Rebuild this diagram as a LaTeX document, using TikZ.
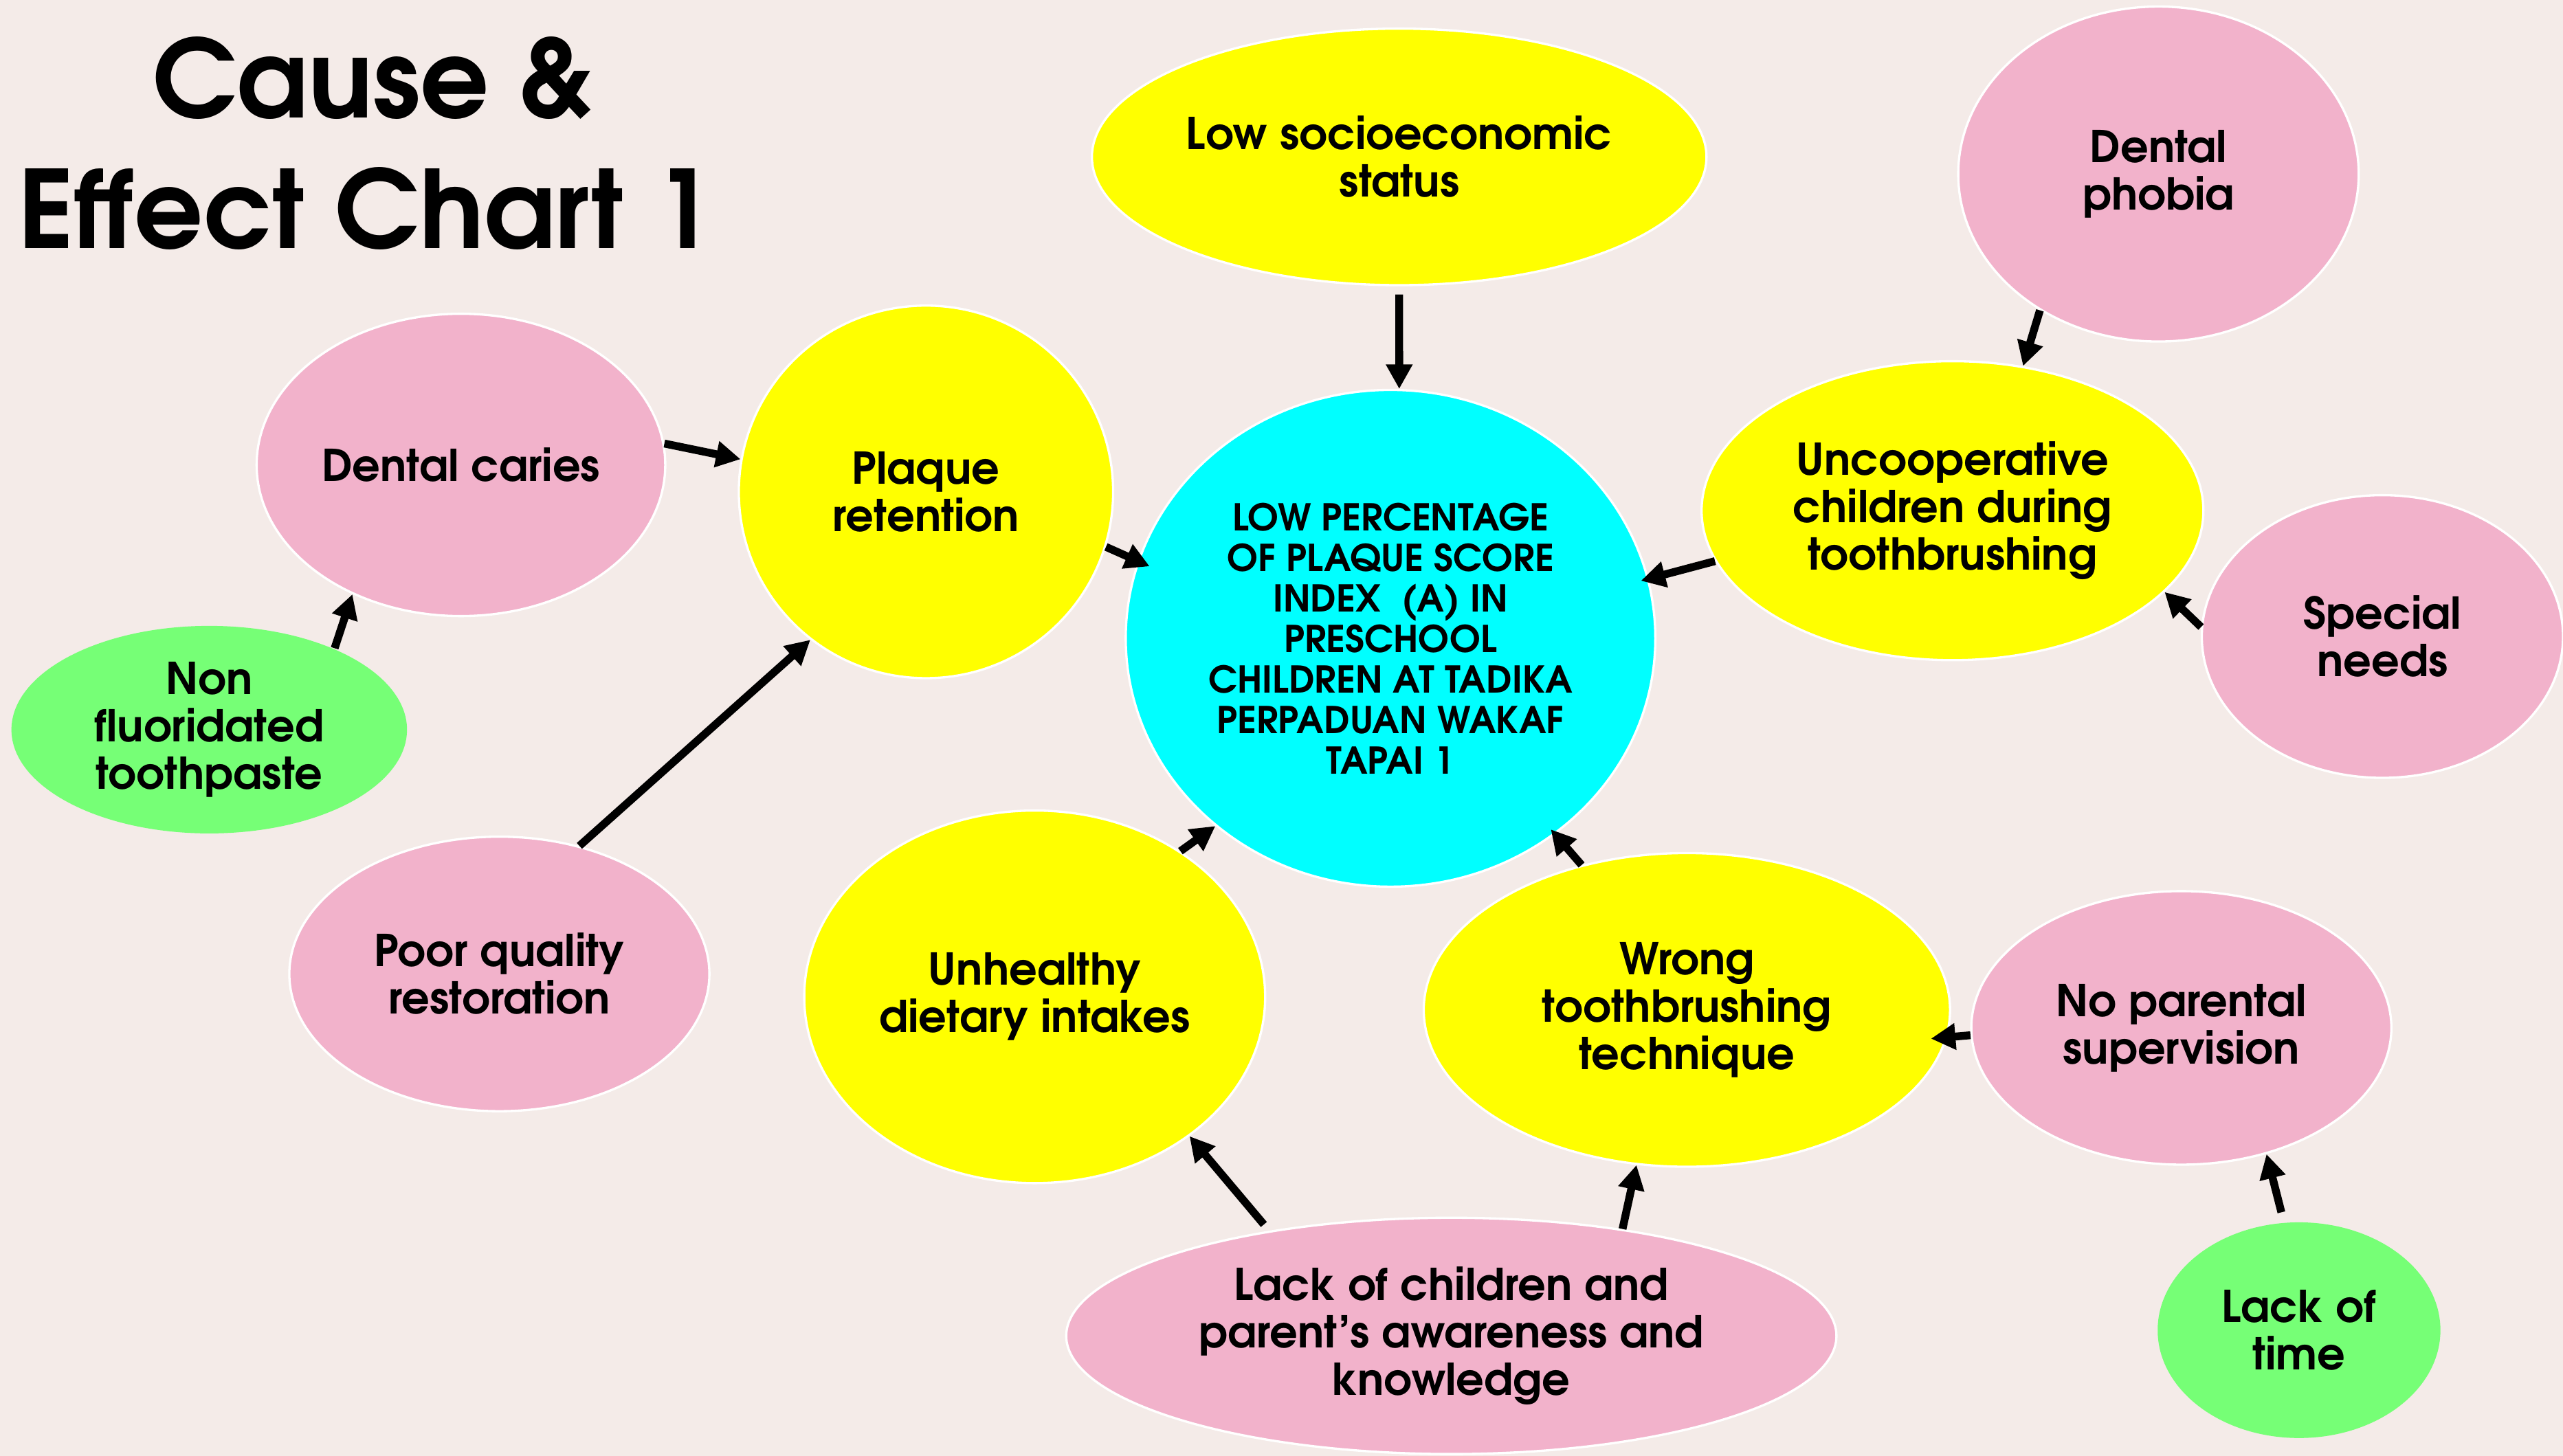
\documentclass[tikz,border=0pt]{standalone}
\usepackage{fontspec}
\setmainfont{TeX Gyre Adventor}
\usetikzlibrary{shapes.geometric,arrows.meta}
\definecolor{bgc}{RGB}{244,235,232}
\definecolor{pinkc}{RGB}{242,178,203}
\definecolor{greenc}{RGB}{118,255,118}
\definecolor{yellowc}{RGB}{255,255,0}
\definecolor{cyanc}{RGB}{0,255,255}
\newcommand\bodyf{\fontsize{13.4}{14.5}\selectfont\bfseries}
\newcommand\cenf{\fontsize{11.3}{12.4}\selectfont\bfseries}
\newcommand\titf{\fontsize{33}{40}\selectfont\bfseries}
\tikzset{
  bub/.style={ellipse, inner sep=0pt, align=center, font=\bodyf, draw=white, line width=0.7pt},
  pinkb/.style={bub, fill=pinkc},
  yellowb/.style={bub, fill=yellowc},
  greenb/.style={bub, fill=greenc, draw=none},
  cenb/.style={bub, fill=cyanc, font=\cenf},
  arr/.style={line width=2.4pt, -{Triangle[length=7.5pt,width=7.7pt]}},
  titlet/.style={anchor=base, font=\titf, inner sep=0pt}
}
\begin{document}
\begin{tikzpicture}[x=0.5pt,y=-0.5pt]
\fill[bgc] (0,0) rectangle (1568,891);
\useasboundingbox (0,0) rectangle (1568,891);

\node[titlet] (t1) at (228,72.2) {Cause \&};
\node[titlet] (t2) at (224,152.1) {Effect Chart 1};

\node[yellowb, minimum width=188pt, minimum height=78.5pt] (low) at (856,96) {Low socioeconomic\\status};
\node[pinkb, minimum width=122.5pt, minimum height=102.5pt] (phobia) at (1320.5,106.5) {Dental\\phobia};
\node[pinkb, minimum width=125pt, minimum height=92.5pt] (caries) at (282,284.5) {Dental caries};
\node[yellowb, minimum width=114.5pt, minimum height=114pt] (plaque) at (566.5,301) {Plaque\\retention};
\node[cenb, minimum width=162pt, minimum height=152pt] (cen) at (850.7,390.6) {LOW PERCENTAGE\\OF PLAQUE SCORE\\INDEX\ \ (A) IN\\PRESCHOOL\\CHILDREN AT TADIKA\\PERPADUAN WAKAF\\TAPAI 1};
\node[yellowb, minimum width=153.5pt, minimum height=91.5pt] (unco) at (1194.5,312.5) {Uncooperative\\children during\\toothbrushing};
\node[pinkb, minimum width=110.5pt, minimum height=86.5pt] (special) at (1457.5,389.5) {Special\\needs};
\node[greenb, minimum width=121pt, minimum height=63.5pt] (nonfl) at (128,446.5) {Non\\fluoridated\\toothpaste};
\node[pinkb, minimum width=128.5pt, minimum height=84pt] (poor) at (305.5,596) {Poor quality\\restoration};
\node[yellowb, minimum width=141pt, minimum height=114pt] (unhealthy) at (633,610) {Unhealthy\\dietary intakes};
\node[yellowb, minimum width=161pt, minimum height=96pt] (wrong) at (1032,618) {Wrong\\toothbrushing\\technique};
\node[pinkb, minimum width=128.5pt, minimum height=83.7pt] (noparent) at (1334.5,629) {No parental\\supervision};
\node[pinkb, minimum width=235.6pt, minimum height=72.3pt] (lackkn) at (887.9,817.5) {Lack of children and\\parent’s awareness and\\knowledge};
\node[greenb, minimum width=86.5pt, minimum height=66pt] (lacktime) at (1406.5,814) {Lack of\\time};

\draw[arr, shorten <=2.5pt] (low.270) -- (cen.88);
\draw[arr] (phobia.229.5) -- (unco.64.5);
\draw[arr] (caries.6) -- (plaque.170);
\draw[arr, shorten >=-4pt] (plaque.343) -- (cen.163);
\draw[arr, shorten >=-2.5pt] (unco.192.6) -- (cen.13.7);
\draw[arr] (special.177) -- (unco.339);
\draw[arr] (nonfl.33) -- (caries.230.5);
\draw[arr] (poor.58.6) -- (plaque.232);
\draw[arr] (unhealthy.45.6) -- (cen.227);
\draw[arr, shorten >=-2pt] (wrong.126) -- (cen.310);
\draw[arr, shorten >=-5pt] (noparent.182.4) -- (wrong.354);
\draw[arr, shorten <=3pt] (lacktime.98) -- (noparent.304.4);
\draw[arr, shorten <=2.5pt] (lackkn.150.5) -- (unhealthy.318.7);
\draw[arr] (lackkn.32.5) -- (wrong.252.3);
\end{tikzpicture}
\end{document}
